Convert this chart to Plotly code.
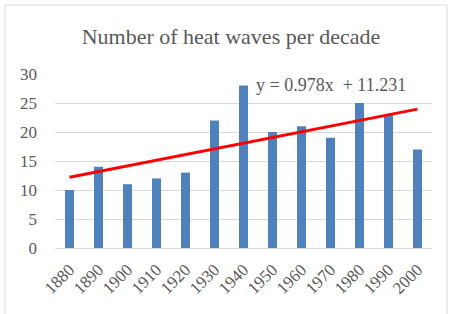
import plotly.graph_objects as go
import numpy as np

decades = ["1880", "1890", "1900", "1910", "1920", "1930", "1940",
           "1950", "1960", "1970", "1980", "1990", "2000"]
heat_waves = [10, 14, 11, 12, 13, 22, 28, 20, 21, 19, 25, 23, 17]
trend_slope = 0.978
trend_intercept = 11.231
y_ticks = [0, 5, 10, 15, 20, 25, 30]

W, H = 451, 314
L, R, T, B = 55, 19, 74, 66
pw, ph = W - L - R, H - T - B

idx = np.arange(1, len(decades) + 1)
trend = trend_slope * idx + trend_intercept

font = "Liberation Serif"
fig = go.Figure()
fig.add_trace(go.Bar(x=decades, y=heat_waves, marker_color="#4f81bd",
                     marker_line_width=0, showlegend=False))
fig.add_trace(go.Scatter(x=decades, y=trend, mode="lines",
                         line=dict(color="#ff0000", width=3), showlegend=False))

def px_x(p):
    return (p - L) / pw
def px_y(p):
    return (H - B - p) / ph

fig.add_shape(type="rect", xref="paper", yref="paper",
              x0=px_x(5), x1=px_x(447), y0=px_y(330), y1=px_y(5),
              line=dict(color="#d9d9d9", width=1), layer="below")

fig.add_annotation(x=px_x(331), y=px_y(85), xref="paper", yref="paper",
                   xanchor="center", yanchor="middle",
                   text="y = 0.978x  + 11.231", showarrow=False,
                   font=dict(family=font, size=18, color="#595959"))

fig.update_layout(
    width=W, height=H,
    margin=dict(l=L, r=R, t=T, b=B, autoexpand=False),
    paper_bgcolor="white", plot_bgcolor="white",
    bargap=0.69,
    title=dict(text="Number of heat waves per decade", x=231 / W, xref="container",
               xanchor="center", y=1 - 36 / H, yanchor="middle",
               font=dict(family=font, size=22, color="#595959")),
    xaxis=dict(type="category", tickangle=-45, showgrid=False, automargin=False,
               showline=True, linecolor="#d9d9d9", linewidth=1,
               ticks="", ticklabelstandoff=4,
               tickfont=dict(family=font, size=17, color="#595959")),
    yaxis=dict(range=[0, 30], tickvals=y_ticks, showgrid=True, automargin=False,
               gridcolor="#d9d9d9", gridwidth=1, zeroline=False,
               showline=False, ticks="", ticklabelstandoff=17,
               tickfont=dict(family=font, size=17, color="#595959")),
)
fig.write_html("out.html", config={"displayModeBar": False},
               post_script="document.body.style.margin='0';")
